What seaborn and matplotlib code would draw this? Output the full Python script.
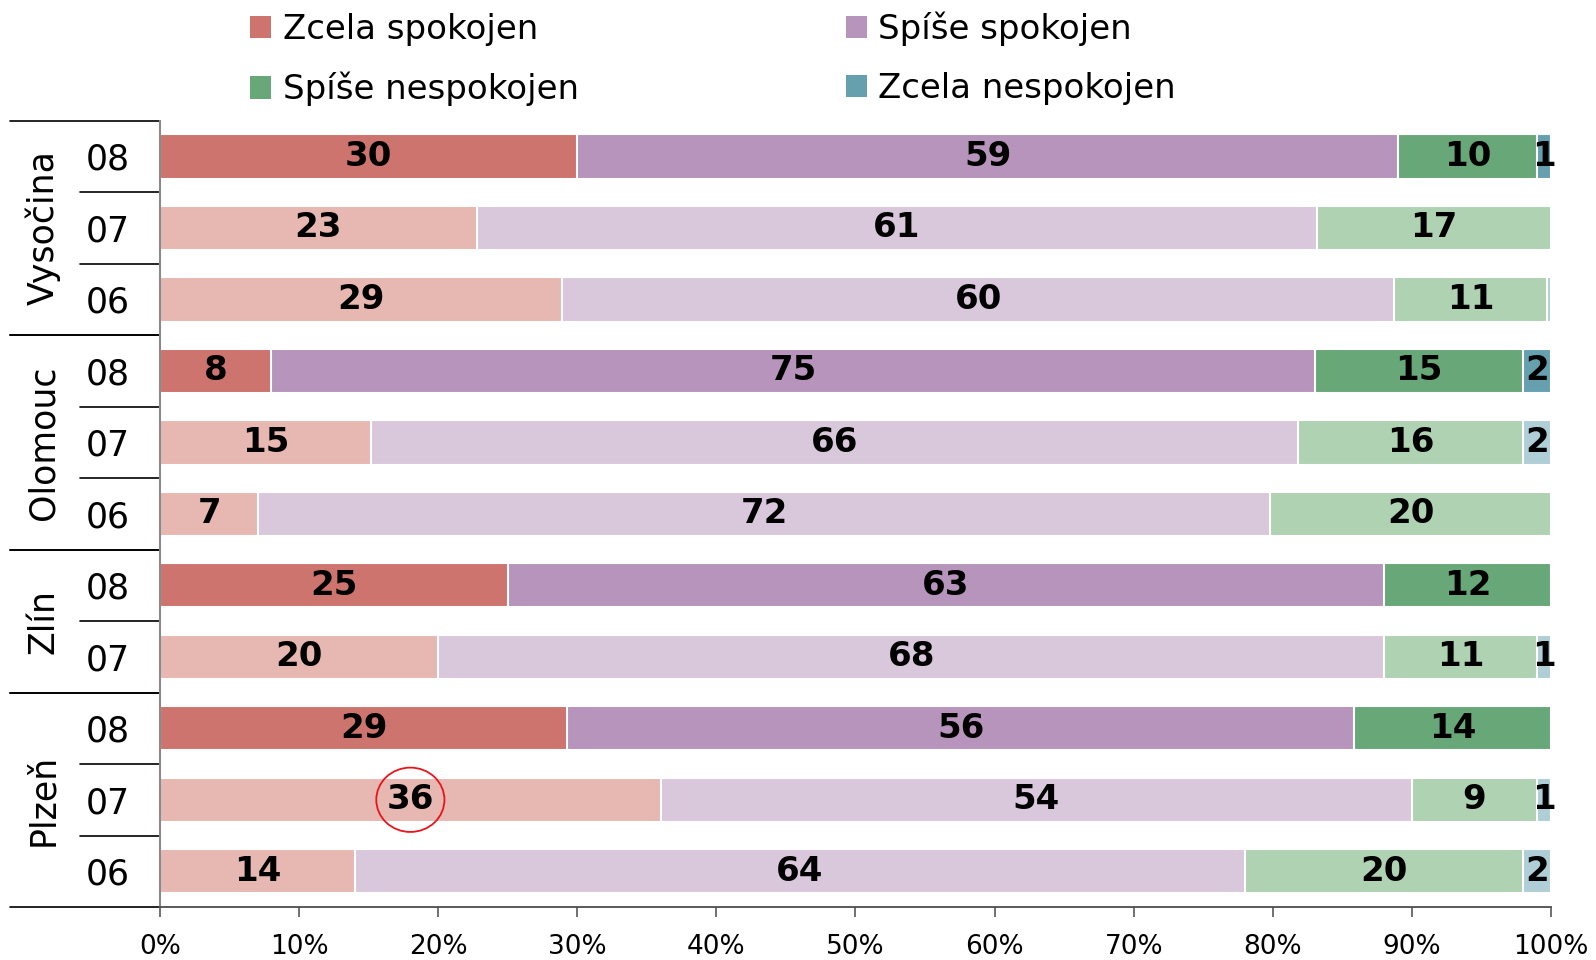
import numpy as np
import pandas as pd
import matplotlib
matplotlib.use("Agg")
import matplotlib.pyplot as plt
import matplotlib.transforms as mtransforms
from matplotlib.patches import Patch, Ellipse
from matplotlib.lines import Line2D
import seaborn as sns

# ---- data -------------------------------------------------------------
regions = ["Vysočina", "Vysočina", "Vysočina",
           "Olomouc", "Olomouc", "Olomouc",
           "Zlín", "Zlín",
           "Plzeň", "Plzeň", "Plzeň"]
years = ["08", "07", "06", "08", "07", "06", "08", "07", "08", "07", "06"]

categories = ["Zcela spokojen", "Spíše spokojen", "Spíše nespokojen", "Zcela nespokojen"]
zcela_spokojen = [30, 23, 29, 8, 15, 7, 25, 20, 29, 36, 14]
spise_spokojen = [59, 61, 60, 75, 66, 72, 63, 68, 56, 54, 64]
spise_nespokojen = [10, 17, 11, 15, 16, 20, 12, 11, 14, 9, 20]
zcela_nespokojen = [1, 0, 0.3, 2, 2, 0, 0, 1, 0, 1, 2]

tick_values = [0, 10, 20, 30, 40, 50, 60, 70, 80, 90, 100]
tick_labels = ["0%", "10%", "20%", "30%", "40%", "50%", "60%", "70%", "80%", "90%", "100%"]

# value that gets circled
highlight = ("Plzeň", "07", "Zcela spokojen")

# current year in strong colours, earlier years in pale tints
current_year = "08"
dark = {"Zcela spokojen": "#CD746F", "Spíše spokojen": "#B794BB",
        "Spíše nespokojen": "#68A777", "Zcela nespokojen": "#66A0AE"}
light = {"Zcela spokojen": "#E6B8B1", "Spíše spokojen": "#D9C8DB",
         "Spíše nespokojen": "#AFD2B2", "Zcela nespokojen": "#AFCED6"}

# ---- table ------------------------------------------------------------
values = np.array([zcela_spokojen, spise_spokojen, spise_nespokojen, zcela_nespokojen], dtype=float)
rows = [f"{r} {y}" for r, y in zip(regions, years)]
shares = values / values.sum(axis=0) * 100
cum = np.cumsum(shares, axis=0)
df = pd.DataFrame({"row": rows})
for k in range(len(categories)):
    df[f"cum_{k}"] = cum[k]

# ---- figure -----------------------------------------------------------
sns.set_theme(style="white")
plt.rcParams["font.family"] = ["DejaVu Sans"]
plt.rcParams["text.color"] = "black"

fig = plt.figure(figsize=(15.96, 9.6), dpi=100)
ax = fig.add_axes([0.10025, 0.05521, 0.87155, 0.81906])

# stacked bars: draw cumulative totals from the right-most segment inwards
for k in reversed(range(len(categories))):
    cat = categories[k]
    pal = {r: (dark[cat] if y == current_year else light[cat]) for r, y in zip(rows, years)}
    sns.barplot(data=df, x=f"cum_{k}", y="row", hue="row", palette=pal,
                order=rows, hue_order=rows, dodge=False, width=0.62,
                saturation=1, edgecolor="white", linewidth=1.5, errorbar=None,
                legend=False, orient="y", ax=ax)

# value labels centred in each segment
for i in range(len(rows)):
    left = 0.0
    for k, cat in enumerate(categories):
        v = shares[k, i]
        raw = values[k, i]
        if round(raw) >= 1:
            ax.text(left + v / 2, i, f"{int(round(raw))}", ha="center", va="center",
                    fontsize=24.5, fontweight="bold", color="black", zorder=5)
        if (regions[i], years[i], cat) == highlight:
            ax.add_patch(Ellipse((left + v / 2, i), width=4.9, height=0.9,
                                 fill=False, edgecolor="#E8141C", linewidth=1.3, zorder=6))
        left += v

# axes
ax.set_xlim(0, 100)
ax.set_ylim(len(rows) - 0.5, -0.5)
ax.set_xticks(tick_values)
ax.set_xticklabels(tick_labels, fontsize=19)
ax.set_yticks(range(len(rows)))
ax.set_yticklabels(years, fontsize=25)
ax.set_xlabel("")
ax.set_ylabel("")
ax.tick_params(axis="y", length=0, pad=22, labelcolor="black")
ax.tick_params(axis="x", direction="out", length=7, width=1.2, color="#595959", pad=12.5,
               bottom=True, labelcolor="black")
for side in ("top", "right"):
    ax.spines[side].set_visible(False)
ax.spines["left"].set_color("#8A8A8A")
ax.spines["left"].set_linewidth(1.5)
ax.spines["bottom"].set_color("#4D4D4D")
ax.spines["bottom"].set_linewidth(1.3)

# region labels and separators to the left of the axis
trans = mtransforms.blended_transform_factory(ax.transAxes, ax.transData)
group_x0, year_x0 = -0.1078, -0.0575
order_regions = list(dict.fromkeys(regions))
for reg in order_regions:
    idx = [i for i, r in enumerate(regions) if r == reg]
    first, last = idx[0], idx[-1]
    for yy in (first - 0.5, last + 0.5):
        ax.add_line(Line2D([group_x0, 0], [yy, yy], transform=trans, color="black",
                           linewidth=1.2, clip_on=False))
    for j in idx[:-1]:
        ax.add_line(Line2D([year_x0, 0], [j + 0.5, j + 0.5], transform=trans, color="black",
                           linewidth=1.2, clip_on=False))
    ax.text(-0.084, (first + last) / 2, reg, transform=trans, rotation=90,
            ha="center", va="center", fontsize=25, color="black")

# legend in two rows across the top
order = [0, 2, 1, 3]
handles = [Patch(facecolor=dark[categories[k]], edgecolor="none") for k in order]
labels = [categories[k] for k in order]
fig.legend(handles, labels, ncol=2, loc="upper left", bbox_to_anchor=(0.1566, 0.988),
           frameon=False, fontsize=24.5, handlelength=0.63, handleheight=0.63,
           handletextpad=0.33, columnspacing=7.85, labelspacing=0.76,
           borderpad=0, borderaxespad=0, labelcolor="black")

fig.savefig("out.png", dpi=100)
